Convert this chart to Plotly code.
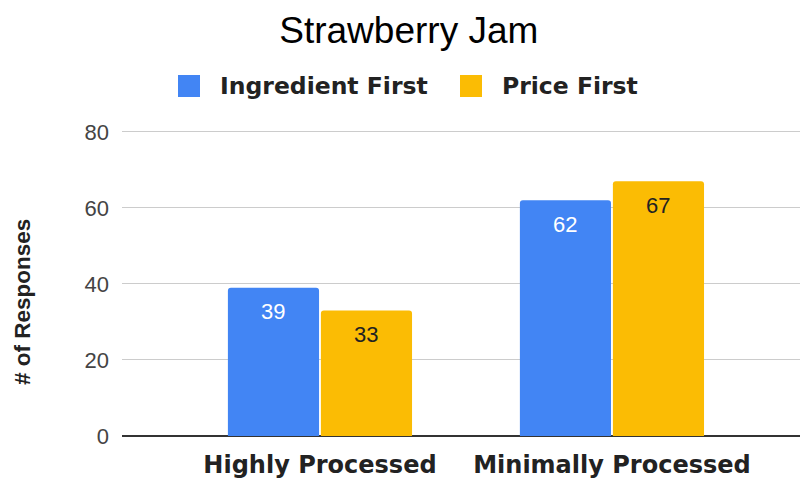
import plotly.graph_objects as go

categories = ["Highly Processed", "Minimally Processed"]
series_names = ["Ingredient First", "Price First"]
ingredient_first = [39, 62]
price_first = [33, 67]
y_ticks = [0, 20, 40, 60, 80]

colors = ["#4285F4", "#FBBC04"]
label_colors = ["#FFFFFF", "#222222"]
values = [ingredient_first, price_first]

W, H = 800, 483
M_L, M_R, M_T, M_B = 122, 0, 130, 47


def px_x(px):
    return (px - M_L) / (W - M_L - M_R)


def px_y(py):
    return (H - M_B - py) / (H - M_T - M_B)


fig = go.Figure()
for name, vals, col in zip(series_names, values, colors):
    fig.add_trace(go.Bar(
        x=list(range(len(categories))), y=vals, name=name,
        marker=dict(color=col, line=dict(width=0), cornerradius=3),
        hoverinfo="skip", showlegend=False,
    ))

# value labels just below each bar top
bargap, groupgap = 0.363, 0.02
slot = (1 - bargap) / 2
for k, (vals, lc) in enumerate(zip(values, label_colors)):
    off = (k - 0.5) * slot
    for i, v in enumerate(vals):
        fig.add_annotation(
            x=i + off, y=v, xref="x", yref="y", text=str(v),
            showarrow=False, yshift=-24, yanchor="middle",
            font=dict(family="Liberation Sans, Arial, sans-serif", size=22, color=lc),
        )

# legend row: colour square + bold name
legend_boxes = [(178, 218), (460, 500)]
for (bx, tx), name, col in zip(legend_boxes, series_names, colors):
    fig.add_shape(type="rect", xref="paper", yref="paper",
                  x0=px_x(bx), x1=px_x(bx + 22), y0=px_y(97), y1=px_y(75),
                  fillcolor=col, line=dict(width=0), layer="above")
    fig.add_annotation(x=px_x(tx), y=px_y(86), xref="paper", yref="paper",
                       text="<b>%s</b>" % name, showarrow=False,
                       xanchor="left", yanchor="middle",
                       font=dict(family="DejaVu Sans, sans-serif", size=23.5, color="#222222"))

# y-axis title
fig.add_annotation(
    x=px_x(22), y=px_y(302), xref="paper", yref="paper", text="<b># of Responses</b>",
    showarrow=False, textangle=-90, xanchor="center", yanchor="middle",
    font=dict(family="Liberation Sans, Arial, sans-serif", size=22.5, color="#222222"),
)

fig.update_layout(
    width=W, height=H,
    margin=dict(l=M_L, r=M_R, t=M_T, b=M_B),
    paper_bgcolor="white", plot_bgcolor="white",
    barmode="group", bargap=bargap, bargroupgap=groupgap,
    title=dict(text="Strawberry Jam", x=0.511, xanchor="center", y=1 - 30 / H, yanchor="middle",
               yref="container",
               font=dict(family="Liberation Sans, Arial, sans-serif", size=37, color="#000000")),
    showlegend=False,
    xaxis=dict(
        tickmode="array", tickvals=list(range(len(categories))),
        ticktext=["<b>%s</b>" % c for c in categories],
        range=[-0.678, 1.644], showgrid=False, zeroline=False, showline=False, ticks="",
        tickfont=dict(family="DejaVu Sans, sans-serif", size=24, color="#222222"),
        ticklabelstandoff=12,
    ),
    yaxis=dict(
        range=[0, 80.5], tickvals=y_ticks, showgrid=True, gridcolor="#CCCCCC", gridwidth=1,
        zeroline=True, zerolinecolor="#333333", zerolinewidth=1.5, showline=False, ticks="",
        tickfont=dict(family="Liberation Sans, Arial, sans-serif", size=22, color="#444444"),
        ticklabelstandoff=12,
    ),
)
fig.write_html("out.html")
